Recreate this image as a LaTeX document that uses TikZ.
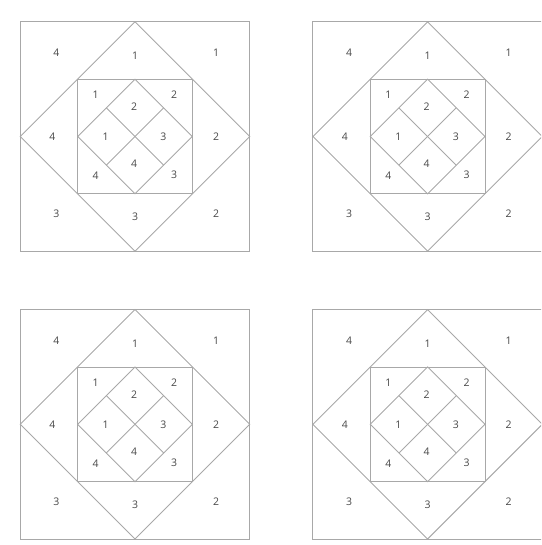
\documentclass[tikz,border=0pt]{standalone}
\usepackage{fontspec}
\setmainfont{Open Sans}
\definecolor{linegray}{HTML}{A8A8A8}
\definecolor{textgray}{HTML}{484848}
\tikzset{
  quiltline/.style={draw=linegray, line width=0.9pt},
  num/.style={text=textgray, font=\fontsize{10.5}{12}\selectfont, inner sep=0pt},
}
\newcommand{\quiltblock}[3]{%
  \begin{scope}[shift={(#1,#2)}]
    \def\h{114.7}
    \draw[quiltline] (-\h,-\h) rectangle (\h,\h);
    \draw[quiltline] (0,-\h) -- (\h,0) -- (0,\h) -- (-\h,0) -- cycle;
    \draw[quiltline] (-\h/2,-\h/2) rectangle (\h/2,\h/2);
    \draw[quiltline] (0,-\h/2) -- (\h/2,0) -- (0,\h/2) -- (-\h/2,0) -- cycle;
    \draw[quiltline] (-\h/4,-\h/4) -- (\h/4,\h/4);
    \draw[quiltline] (\h/4,-\h/4) -- (-\h/4,\h/4);
    \node[num] (#3-otl) at (-78.5,-84) {4};
    \node[num] (#3-ot)  at (0,-80.5) {1};
    \node[num] (#3-otr) at (81,-84) {1};
    \node[num] (#3-ol)  at (-82.7,0.3) {4};
    \node[num] (#3-or)  at (81,0.3) {2};
    \node[num] (#3-obl) at (-78.5,77) {3};
    \node[num] (#3-ob)  at (0,80.4) {3};
    \node[num] (#3-obr) at (81,77) {2};
    \node[num] (#3-itl) at (-39.3,-41.3) {1};
    \node[num] (#3-itr) at (39,-42) {2};
    \node[num] (#3-ibl) at (-39.3,39.3) {4};
    \node[num] (#3-ibr) at (39,38.7) {3};
    \node[num] (#3-dt)  at (-1,-29.6) {2};
    \node[num] (#3-dl)  at (-29.3,0.3) {1};
    \node[num] (#3-dr)  at (28.3,0.3) {3};
    \node[num] (#3-db)  at (-1,27.7) {4};
  \end{scope}}
\begin{document}
\begin{tikzpicture}[x=1pt,y=-1pt]
  \useasboundingbox (0,0) rectangle (541,545);
  \clip (0,0) rectangle (541,545);
  \quiltblock{135}{136.5}{a}
  \quiltblock{427.6}{136.5}{b}
  \quiltblock{135}{424.3}{c}
  \quiltblock{427.6}{424.3}{d}
\end{tikzpicture}
\end{document}
